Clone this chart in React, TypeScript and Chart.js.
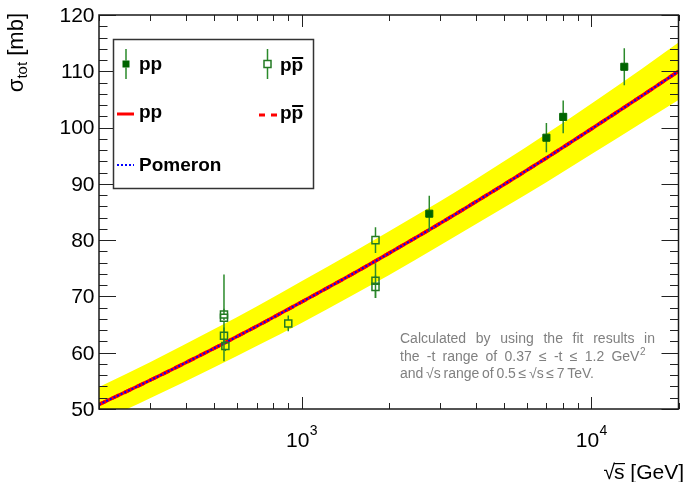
import React, { useEffect, useRef } from "react";
import { Chart, registerables } from "chart.js";

Chart.register(...registerables);

// ---- data ----
const FIT_SQRT_S = [200, 300, 500, 700, 1000, 1500, 2000, 3000, 5000, 7000, 10000, 15000, 20000];
const FIT_PP = [50.8, 55.1, 60.8, 64.7, 69.0, 74.0, 77.65, 82.95, 89.9, 94.6, 99.75, 105.7, 110.0];
const FIT_PPBAR = [50.8, 55.1, 60.8, 64.7, 69.0, 74.0, 77.65, 82.95, 89.9, 94.6, 99.75, 105.7, 110.0];
const FIT_POMERON = [50.8, 55.1, 60.8, 64.7, 69.0, 74.0, 77.65, 82.95, 89.9, 94.6, 99.75, 105.7, 110.0];
const BAND_HIGH = [53.9, 58.3, 64.2, 68.2, 72.7, 77.8, 81.55, 86.85, 94.0, 98.9, 104.25, 110.5, 115.1];
const BAND_LOW = [47.7, 51.9, 57.4, 61.2, 65.3, 70.2, 73.75, 79.05, 85.8, 90.3, 95.25, 100.9, 104.9];

const PP_SQRT_S = [2760, 7000, 8000, 13000];
const PP_SIGMA = [84.7, 98.2, 101.9, 110.8];
const PP_ERR = [3.2, 2.6, 2.9, 3.3];

const PPBAR_SQRT_S = [540, 540, 540, 546, 900, 1800, 1800, 1800];
const PPBAR_SIGMA = [66.2, 66.8, 63.0, 61.2, 65.2, 80.0, 72.8, 71.7];
const PPBAR_ERR = [7.7, 1.0, 1.5, 0.9, 1.4, 2.3, 3.1, 2.0];

const Y_TICKS = [50, 60, 70, 80, 90, 100, 110, 120];
const X_LABEL_EXPONENTS = [3, 4];
const X_MIN = 200;
const X_MAX = 20000;
const Y_MIN = 50;
const Y_MAX = 120;

const NOTE_LINES = [
  { words: ["Calculated", "by", "using", "the", "fit", "results", "in"], width: 255, sup: "" },
  { words: ["the", "-t", "range", "of", "0.37", "≤", "-t", "≤", "1.2", "GeV"], width: 245, sup: "2" },
  { words: ["and", "√s", "range", "of", "0.5", "≤", "√s", "≤", "7", "TeV."], width: 194, sup: "" },
];

const FONT = '"Liberation Sans", Arial, Helvetica, sans-serif';
const GREEN_DARK = "#006400";
const GREEN_BAR = "#2b8a2b";
const GREEN_OPEN = "#237a23";

const pts = (xs: number[], ys: number[]) => xs.map((x, i) => ({ x, y: ys[i] }));

const errorBarPlugin = {
  id: "errorBars",
  beforeDatasetDraw(chart: any, args: any) {
    const ds: any = chart.data.datasets[args.index];
    if (!ds.errorBars) return;
    const { ctx, chartArea, scales } = chart;
    const xs = scales.x;
    const ys = scales.y;
    ctx.save();
    ctx.beginPath();
    ctx.rect(chartArea.left, chartArea.top, chartArea.right - chartArea.left, chartArea.bottom - chartArea.top);
    ctx.clip();
    ctx.strokeStyle = ds.errorBarColor;
    ctx.lineWidth = 1.5;
    const h = 3.5;
    ds.data.forEach((p: any, i: number) => {
      const e = ds.errorBars[i];
      const x = xs.getPixelForValue(p.x);
      const y = ys.getPixelForValue(p.y);
      const yt = ys.getPixelForValue(p.y + e);
      const yb = ys.getPixelForValue(p.y - e);
      ctx.beginPath();
      if (yt < y - h) {
        ctx.moveTo(x, yt);
        ctx.lineTo(x, y - h);
      }
      if (yb > y + h) {
        ctx.moveTo(x, y + h);
        ctx.lineTo(x, yb);
      }
      ctx.stroke();
    });
    ctx.restore();
  },
};

function drawPbarText(ctx: CanvasRenderingContext2D, x: number, y: number) {
  ctx.fillText("pp", x, y);
  const wp = ctx.measureText("p").width;
  const w2 = ctx.measureText("pp").width;
  ctx.fillRect(x + wp + 0.5, y - 14, w2 - wp - 0.5, 2);
}

const decorPlugin = {
  id: "decor",
  afterDraw(chart: any) {
    const { ctx, chartArea, scales } = chart;
    const xs = scales.x;
    const ys = scales.y;
    const { left, right, top, bottom } = chartArea;
    ctx.save();

    // ticks
    ctx.strokeStyle = "#222";
    ctx.lineWidth = 1;
    ctx.beginPath();
    for (let v = Y_MIN; v <= Y_MAX; v += 2) {
      const y = Math.round(ys.getPixelForValue(v)) + 0.5;
      const len = v % 10 === 0 ? 17 : 8.5;
      ctx.moveTo(left, y);
      ctx.lineTo(left + len, y);
      ctx.moveTo(right, y);
      ctx.lineTo(right - len, y);
    }
    for (const d of [100, 1000, 10000]) {
      for (let m = 1; m <= 9; m++) {
        const v = m * d;
        if (v < X_MIN || v > X_MAX) continue;
        const x = Math.round(xs.getPixelForValue(v)) + 0.5;
        const len = m === 1 ? 12 : 6;
        ctx.moveTo(x, bottom);
        ctx.lineTo(x, bottom - len);
        ctx.moveTo(x, top);
        ctx.lineTo(x, top + len);
      }
    }
    ctx.stroke();

    // frame
    ctx.lineWidth = 1.5;
    ctx.strokeStyle = "#1a1a1a";
    ctx.strokeRect(left, top, right - left, bottom - top);

    // y tick labels
    ctx.fillStyle = "#000";
    ctx.font = `21px ${FONT}`;
    ctx.textAlign = "right";
    ctx.textBaseline = "middle";
    Y_TICKS.forEach((v) => {
      ctx.fillText(String(v), left - 4.5, ys.getPixelForValue(v) + 1);
    });

    // x tick labels 10^n
    ctx.textAlign = "left";
    ctx.textBaseline = "alphabetic";
    X_LABEL_EXPONENTS.forEach((e) => {
      const x = xs.getPixelForValue(Math.pow(10, e));
      ctx.font = `21px ${FONT}`;
      const w1 = ctx.measureText("10").width;
      ctx.font = `14px ${FONT}`;
      const w2 = ctx.measureText(String(e)).width;
      const x0 = x - (w1 + w2) / 2;
      ctx.font = `21px ${FONT}`;
      ctx.fillText("10", x0, 447);
      ctx.font = `14px ${FONT}`;
      ctx.fillText(String(e), x0 + w1 + 0.5, 435);
    });

    // x axis title: √s [GeV]
    ctx.font = `21px ${FONT}`;
    const tRest = " [GeV]";
    const wRest = ctx.measureText(tRest).width;
    const wS = ctx.measureText("s").width;
    const wRoot = ctx.measureText("√").width;
    const xEnd = 684;
    const xRest = xEnd - wRest;
    const xS = xRest - wS;
    const xRoot = xS - wRoot + 1;
    ctx.fillText(tRest, xRest, 479);
    ctx.fillText("s", xS, 479);
    ctx.fillText("√", xRoot, 479);
    ctx.fillRect(xS, 463, wS + 0.5, 1.2);

    // y axis title: σ_tot [mb]
    ctx.save();
    ctx.translate(23, 13);
    ctx.rotate(-Math.PI / 2);
    ctx.font = `22px ${FONT}`;
    const wSig = ctx.measureText("σ").width;
    const wMb = ctx.measureText(" [mb]").width;
    ctx.font = `15px ${FONT}`;
    const wTot = ctx.measureText("tot").width;
    const total = wSig + wTot + wMb;
    let tx = -total;
    ctx.textAlign = "left";
    ctx.font = `22px ${FONT}`;
    ctx.fillText("σ", tx, 0);
    tx += wSig;
    ctx.font = `15px ${FONT}`;
    ctx.fillText("tot", tx, 4);
    tx += wTot;
    ctx.font = `22px ${FONT}`;
    ctx.fillText(" [mb]", tx, 0);
    ctx.restore();

    // annotation
    ctx.fillStyle = "#808080";
    ctx.font = `14px ${FONT}`;
    const baselines = [343, 360.5, 378];
    NOTE_LINES.forEach((line, li) => {
      const ws = line.words.map((w) => ctx.measureText(w).width);
      let supW = 0;
      if (line.sup) {
        ctx.font = `10px ${FONT}`;
        supW = ctx.measureText(line.sup).width;
        ctx.font = `14px ${FONT}`;
      }
      const sum = ws.reduce((a, b) => a + b, 0) + supW;
      const gap = (line.width - sum) / (line.words.length - 1);
      let x = 400;
      line.words.forEach((w, i) => {
        ctx.fillText(w, x, baselines[li]);
        x += ws[i];
        if (i < line.words.length - 1) x += gap;
      });
      if (line.sup) {
        ctx.font = `10px ${FONT}`;
        ctx.fillText(line.sup, x + 0.5, baselines[li] - 6);
        ctx.font = `14px ${FONT}`;
      }
    });

    // legend
    ctx.fillStyle = "#fff";
    ctx.fillRect(113.5, 39.5, 200, 149);
    ctx.lineWidth = 1.5;
    ctx.strokeStyle = "#333";
    ctx.strokeRect(113.5, 39.5, 200, 149);

    // row 1 markers
    ctx.lineWidth = 1.5;
    ctx.strokeStyle = GREEN_BAR;
    ctx.beginPath();
    ctx.moveTo(126, 49);
    ctx.lineTo(126, 60.5);
    ctx.moveTo(126, 67.5);
    ctx.lineTo(126, 79);
    ctx.moveTo(267.5, 49);
    ctx.lineTo(267.5, 60.5);
    ctx.moveTo(267.5, 67.5);
    ctx.lineTo(267.5, 79);
    ctx.stroke();
    ctx.fillStyle = GREEN_DARK;
    ctx.fillRect(122.5, 60.5, 7, 7);
    ctx.strokeStyle = GREEN_OPEN;
    ctx.strokeRect(264, 60.5, 7, 7);

    ctx.fillStyle = "#000";
    ctx.font = `bold 19px ${FONT}`;
    ctx.textAlign = "left";
    ctx.fillText("pp", 139, 70);
    drawPbarText(ctx, 280, 71);

    // row 2
    ctx.strokeStyle = "#ff0000";
    ctx.lineWidth = 3;
    ctx.beginPath();
    ctx.moveTo(117, 114);
    ctx.lineTo(134, 114);
    ctx.stroke();
    ctx.setLineDash([6, 6]);
    ctx.beginPath();
    ctx.moveTo(259, 115);
    ctx.lineTo(277, 115);
    ctx.stroke();
    ctx.setLineDash([]);
    ctx.fillText("pp", 139, 118);
    drawPbarText(ctx, 280, 119);

    // row 3
    ctx.strokeStyle = "#0000ff";
    ctx.lineWidth = 2;
    ctx.setLineDash([2, 2]);
    ctx.beginPath();
    ctx.moveTo(117, 165);
    ctx.lineTo(134, 165);
    ctx.stroke();
    ctx.setLineDash([]);
    ctx.fillText("Pomeron", 139, 171);

    ctx.restore();
  },
};

export default function App() {
  const ref = useRef<HTMLCanvasElement>(null);
  useEffect(() => {
    const canvas = ref.current;
    if (!canvas) return;
    const chart = new Chart(canvas, {
      type: "line",
      data: {
        datasets: [
          {
            label: "band high",
            data: pts(FIT_SQRT_S, BAND_HIGH),
            borderWidth: 0,
            borderColor: "rgba(0,0,0,0)",
            backgroundColor: "#ffff00",
            pointRadius: 0,
            fill: "+1",
            cubicInterpolationMode: "monotone",
            order: 10,
          },
          {
            label: "band low",
            data: pts(FIT_SQRT_S, BAND_LOW),
            borderWidth: 0,
            borderColor: "rgba(0,0,0,0)",
            pointRadius: 0,
            fill: false,
            cubicInterpolationMode: "monotone",
            order: 9,
          },
          {
            label: "pp fit",
            data: pts(FIT_SQRT_S, FIT_PP),
            borderColor: "#ff0000",
            borderWidth: 3.5,
            pointRadius: 0,
            fill: false,
            cubicInterpolationMode: "monotone",
            order: 6,
          },
          {
            label: "ppbar fit",
            data: pts(FIT_SQRT_S, FIT_PPBAR),
            borderColor: "#ff0000",
            borderWidth: 3.5,
            borderDash: [8, 6],
            pointRadius: 0,
            fill: false,
            cubicInterpolationMode: "monotone",
            order: 5,
          },
          {
            label: "Pomeron",
            data: pts(FIT_SQRT_S, FIT_POMERON),
            borderColor: "#0000ff",
            borderWidth: 2,
            borderDash: [2, 2],
            pointRadius: 0,
            fill: false,
            cubicInterpolationMode: "monotone",
            order: 4,
          },
          {
            label: "pp data",
            data: pts(PP_SQRT_S, PP_SIGMA),
            showLine: false,
            pointStyle: "rect",
            pointRadius: 5,
            pointBackgroundColor: GREEN_DARK,
            pointBorderColor: GREEN_DARK,
            pointBorderWidth: 1,
            errorBars: PP_ERR,
            errorBarColor: GREEN_BAR,
            order: 1,
          } as any,
          {
            label: "ppbar data",
            data: pts(PPBAR_SQRT_S, PPBAR_SIGMA),
            showLine: false,
            pointStyle: "rect",
            pointRadius: 5,
            pointBackgroundColor: "rgba(0,0,0,0)",
            pointBorderColor: GREEN_OPEN,
            pointBorderWidth: 1.5,
            errorBars: PPBAR_ERR,
            errorBarColor: GREEN_BAR,
            order: 2,
          } as any,
        ],
      },
      options: {
        animation: false,
        responsive: false,
        maintainAspectRatio: false,
        events: [],
        layout: { padding: { left: 99, right: 1, top: 15, bottom: 73 } },
        scales: {
          x: { type: "logarithmic", min: X_MIN, max: X_MAX, display: false },
          y: { type: "linear", min: Y_MIN, max: Y_MAX, display: false },
        },
        plugins: {
          legend: { display: false },
          tooltip: { enabled: false },
        },
      },
      plugins: [errorBarPlugin, decorPlugin],
    } as any);
    return () => chart.destroy();
  }, []);
  return (
    <div style={{ position: "absolute", left: 0, top: 0, width: 685, height: 482, background: "#fff" }}>
      <canvas ref={ref} width={685} height={482} style={{ display: "block", width: 685, height: 482 }} />
    </div>
  );
}
